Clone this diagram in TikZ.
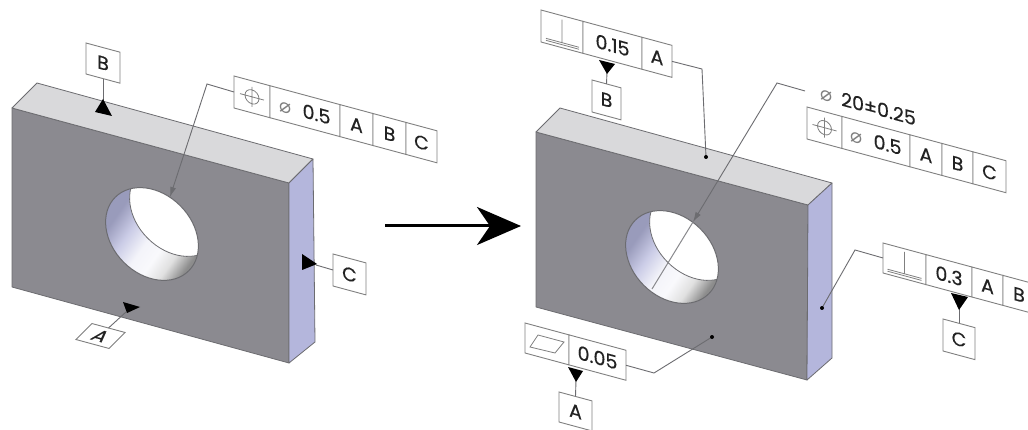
\documentclass[tikz,border=0pt]{standalone}
\usepackage{fontspec}
\setmainfont{Poppins}[FakeBold=0.4]
\newfontfamily\symf{DejaVu Sans}
\usetikzlibrary{arrows.meta}
\definecolor{facec}{HTML}{8B8A90}
\definecolor{topc}{HTML}{D9D9DB}
\definecolor{sidec}{HTML}{B4B6DC}
\definecolor{edgec}{HTML}{6C6C70}
\definecolor{framec}{HTML}{808080}
\definecolor{txtc}{HTML}{222222}
\pgfdeclarehorizontalshading{wallshade}{100bp}{
  color(0bp)=(sidec!85!black);
  color(30bp)=(sidec!85!black);
  color(40bp)=(sidec!70!white);
  color(50bp)=(sidec!15!white);
  color(58bp)=(white!92!sidec);
  color(66bp)=(black!12);
  color(74bp)=(black!45);
  color(100bp)=(black!50)}
\tikzset{
  face/.style={draw=edgec,line width=0.8pt,line join=round},
  cellbox/.style={draw=framec,fill=white,line width=0.9pt,inner sep=0pt,outer sep=0pt,text=txtc,
    font=\fontsize{19}{19}\selectfont,yslant=-0.27,anchor=center},
  lead/.style={draw=edgec,line width=0.9pt},
  sym/.style={draw=framec,line width=0.8pt},
  tri/.style={fill=black,draw=none},
  dotm/.style={fill=black,draw=none},
}
% name, X, Y, a, b, h, text
\newcommand{\fcell}[7]{%
  \pgfmathsetmacro{\cw}{#5-#4}%
  \pgfmathsetmacro{\cx}{#2+(#4+#5)/2}%
  \pgfmathsetmacro{\cy}{#3+0.27*(#4+#5)/2+#6/2}%
  \node[cellbox,minimum width=\cw pt,minimum height=#6pt] (#1) at (\cx,\cy) {#7};%
}
\newcommand{\phisym}{{\symf\fontsize{20}{20}\selectfont\color{framec}⌀}}
\newcommand{\holeshape}[4]{% cx, cy, dx, dy
  \begin{scope}
    \path[clip,shift={(#1,#2)},rotate=-45] (0,0) ellipse [x radius=52pt,y radius=40pt];
    \shade[shading=wallshade,shading angle=-35]
      (#1-50,#2-50) rectangle (#1+50,#2+50);
    \path[fill=white,draw=edgec,line width=0.8pt,shift={(#1+#3,#2+#4)},rotate=-45]
      (0,0) ellipse [x radius=52pt,y radius=40pt];
  \end{scope}
  \draw[edgec,line width=1pt,shift={(#1,#2)},rotate=-45] (0,0) ellipse [x radius=52pt,y radius=40pt];
}
\begin{document}
\begin{tikzpicture}[x=1pt,y=-1pt]
\path[use as bounding box,clip] (0,0) rectangle (1028,430);
\fill[white] (0,0) rectangle (1028,430);

% ---------- left block ----------
\path[face,fill=facec] (12,108) -- (289,183) -- (289,363) -- (12,287) -- cycle;
\path[face,fill=topc] (12,108) -- (37,83) -- (313,159) -- (289,183) -- cycle;
\path[face,fill=sidec] (289,183) -- (313,159) -- (315,342) -- (289,363) -- cycle;
\holeshape{152}{234}{24}{-24}

% left datum B
\fcell{lB}{86}{43}{0}{34}{31}{B}
\coordinate (lBt) at (103,100);
\draw[lead] (lB.south) -- (lBt);
\fill[tri] (103,99) -- (112,116) -- (95,112) -- cycle;

% left datum C
\fcell{lC}{333}{254}{0}{33}{32}{C}
\coordinate (lCt) at (316,265);
\draw[lead] (lC.west) -- (lCt);
\fill[tri] (317,264) -- (302,270) -- (302,254) -- cycle;

% left datum A (flat)
\node[draw=framec,fill=white,line width=0.9pt,inner sep=0pt,outer sep=0pt,text=txtc,
  minimum width=33pt,minimum height=22pt,font=\fontsize{19}{19}\selectfont,
  cm={1,-0.27,0.727,0.727,(0,0)}] (lA) at (100.5,336) {A};
\coordinate (lAt) at (126,312);
\draw[lead] (lA.north) -- (lAt);
\fill[tri] (123,302) -- (140,307) -- (127,313) -- cycle;

% left frame
\fcell{f1}{234}{76}{0}{36}{32}{}
\fcell{f2}{234}{76}{36}{106}{32}{\phisym\hspace{11pt}0.5}
\fcell{f3}{234}{76}{106}{139}{32}{A}
\fcell{f4}{234}{76}{139}{172}{32}{B}
\fcell{f5}{234}{76}{172}{203}{32}{C}
\draw[sym,shift={(f1.center)},yslant=-0.27] (0,0) circle [radius=7pt] (-12,0) -- (12,0) (0,-10) -- (0,10);
\coordinate (lk) at (207,84);
\coordinate (lh) at (170,197);
\draw[lead,-{Latex[length=10pt,width=6pt]}] (f1.west) -- (lk) -- (lh);

% ---------- central arrow ----------
\coordinate (as) at (385,226);
\coordinate (ae) at (521,226);
\draw[line width=3pt,-{Stealth[length=44pt,width=38pt,inset=13pt]}] (as) -- (ae);

% ---------- right block ----------
\path[face,fill=facec] (536,132) -- (808,205) -- (807,380) -- (536,307) -- cycle;
\path[face,fill=topc] (536,132) -- (560,108) -- (832,183) -- (808,205) -- cycle;
\path[face,fill=sidec] (808,205) -- (832,183) -- (832,358) -- (807,380) -- cycle;
\holeshape{672}{257}{24}{-23}

% diameter leader through the hole
\coordinate (rk) at (777,83);
\coordinate (rd) at (805,91);
\coordinate (rtip) at (693,222);
\coordinate (rend) at (652,289);
\draw[draw=edgec!80!white,line width=1pt] (rtip) -- (rend);
\draw[lead,-{Latex[length=10pt,width=6pt]}] (rd) -- (rk) -- (rtip);
\node[text=txtc,inner sep=0pt,font=\fontsize{19}{19}\selectfont,yslant=-0.27] (dim) at (868,106)
  {\phisym\hspace{9pt}20±0.25};

% right main frame
\fcell{g1}{807}{107}{0}{35}{32}{}
\fcell{g2}{807}{107}{35}{103}{32}{\phisym\hspace{11pt}0.5}
\fcell{g3}{807}{107}{103}{135}{32}{A}
\fcell{g4}{807}{107}{135}{166}{32}{B}
\fcell{g5}{807}{107}{166}{199}{32}{C}
\draw[sym,shift={(g1.center)},yslant=-0.27] (0,0) circle [radius=7pt] (-12,0) -- (12,0) (0,-10) -- (0,10);

% top frame
\fcell{t1}{541}{10}{0}{42}{32}{}
\fcell{t2}{541}{10}{42}{101}{32}{0.15}
\fcell{t3}{541}{10}{101}{131}{32}{A}
\draw[sym,shift={(t1.center)},yslant=-0.27] (0,-12) -- (0,11) (-16,11) -- (17,11) (-16,13) -- (17,13);
\coordinate (tk) at (702,69);
\coordinate (td) at (706,157);
\draw[lead] (t3.east) -- (tk) -- (td);
\fill[dotm] (td) circle [radius=2pt];
\fcell{rB}{592}{80}{0}{29}{32}{B}
\coordinate (rBt) at (607,72);
\draw[lead] (rB.north) -- (rBt);
\fill[tri] (599,60) -- (615,64) -- (607,74) -- cycle;

% right frame
\fcell{s1}{883}{243}{0}{43}{30}{}
\fcell{s2}{883}{243}{43}{89}{30}{0.3}
\fcell{s3}{883}{243}{89}{120}{30}{A}
\fcell{s4}{883}{243}{120}{152}{30}{B}
\draw[sym,shift={(s1.center)},yslant=-0.27] (0,-12) -- (0,10) (-17,10) -- (17,10) (-17,12) -- (17,12);
\coordinate (sk) at (855,250);
\coordinate (sd) at (822,308);
\draw[lead] (s1.west) -- (sk) -- (sd);
\fill[dotm] (sd) circle [radius=2pt];
\fcell{rC}{943}{319}{0}{32}{32}{C}
\coordinate (rCt) at (959,308);
\draw[lead] (rC.north) -- (rCt);
\fill[tri] (951,293) -- (968,297) -- (959,310) -- cycle;

% bottom frame
\fcell{b1}{525}{323}{0}{44}{30}{}
\fcell{b2}{525}{323}{44}{101}{30}{0.05}
\draw[sym] (530,347) -- (538,335) -- (564,342) -- (555,353) -- cycle;
\coordinate (bk) at (654,373);
\coordinate (bd) at (712,337);
\draw[lead] (b2.east) -- (bk) -- (bd);
\fill[dotm] (bd) circle [radius=2pt];
\fcell{rA}{559}{392}{0}{33}{30}{A}
\coordinate (rAt) at (576,380);
\draw[lead] (rA.north) -- (rAt);
\fill[tri] (568,367) -- (583,371) -- (576,382) -- cycle;
\end{tikzpicture}
\end{document}
